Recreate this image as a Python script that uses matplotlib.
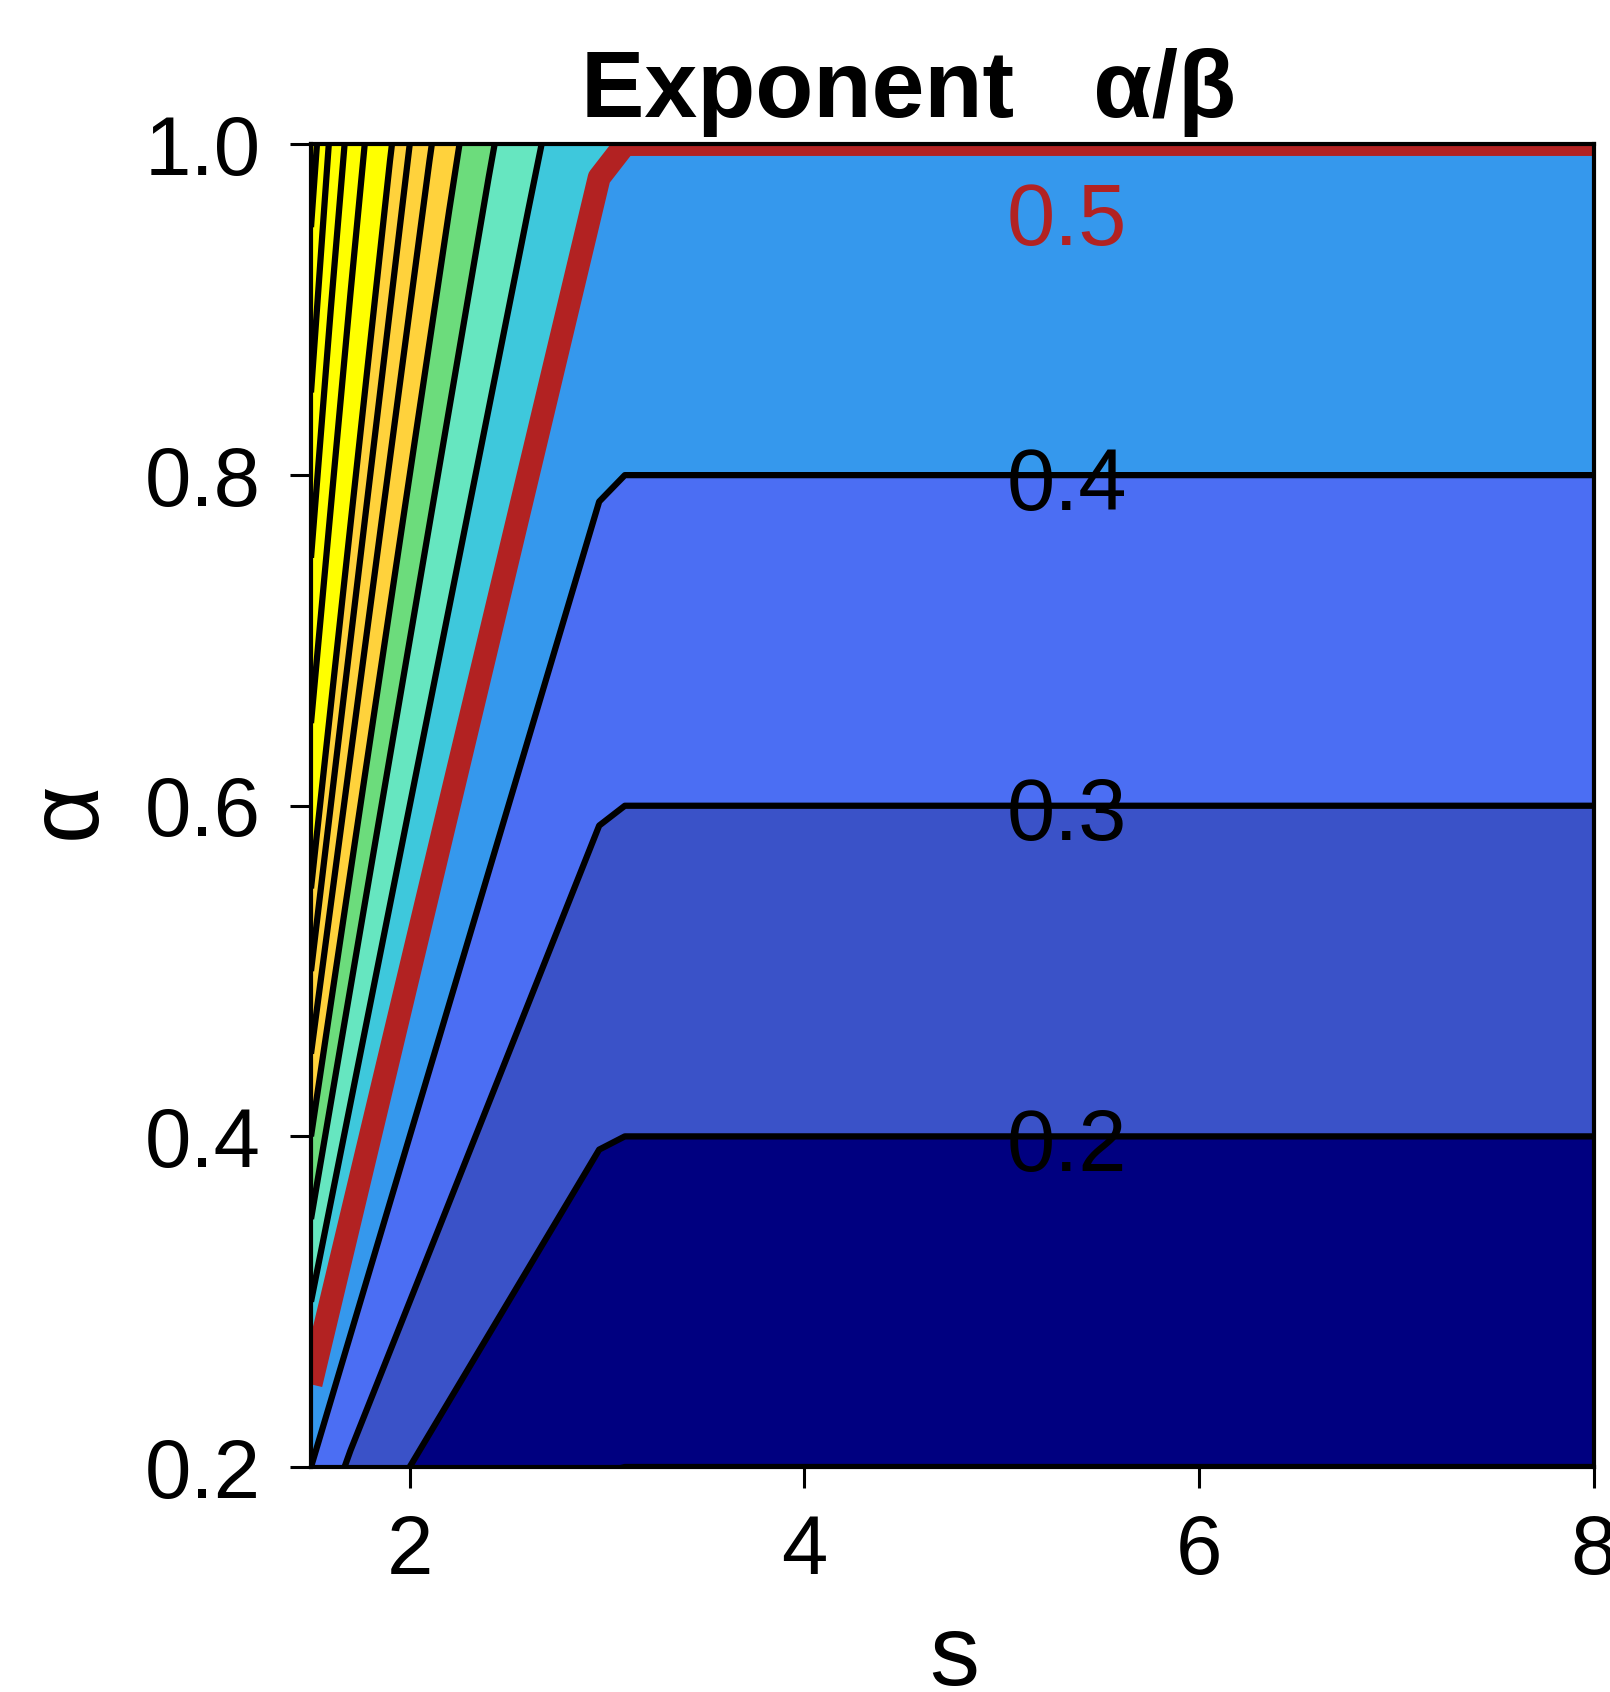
import numpy as np
import matplotlib
matplotlib.use("Agg")
import matplotlib.pyplot as plt

plt.rcParams['font.family'] = ['Liberation Sans', 'DejaVu Sans']

# ---- data ----
# grid of s values and the exponent beta at each s (contours show beta = s-1, capped at 2)
s_nodes = [1.5, 1.6, 1.7, 1.8, 1.9, 2.0, 2.1, 2.2, 2.3, 2.4, 2.5, 2.6, 2.7, 2.8, 2.9, 2.96, 3.09, 8.0]
beta_nodes = [0.5, 0.6, 0.7, 0.8, 0.9, 1.0, 1.1, 1.2, 1.3, 1.4, 1.5, 1.6, 1.7, 1.8, 1.9, 1.96, 2.0, 2.0]
alpha_nodes = [0.15, 0.2, 1.0, 1.05]

fill_levels = [0.0, 0.2, 0.3, 0.4, 0.5, 0.6, 0.7, 0.8, 1.1, 2.2]
fill_colors = ['#000080', '#3A52C8', '#4B6EF3', '#3598ED', '#3EC8DC',
               '#66E6C0', '#6CDC7C', '#FFD23C', '#FFFF00']
black_levels = [0.1, 0.2, 0.3, 0.4, 0.6, 0.7, 0.8, 0.9, 1.0, 1.1, 1.3, 1.5, 1.7, 1.9]
red_levels = [0.5]
label_texts = ['0.5', '0.4', '0.3', '0.2']
label_colors = ['#B22222', 'black', 'black', 'black']

x_ticks = [2, 4, 6, 8]
x_ticklabels = ['2', '4', '6', '8']
y_ticks = [0.2, 0.4, 0.6, 0.8, 1.0]
y_ticklabels = ['0.2', '0.4', '0.6', '0.8', '1.0']

# ---- figure ----
W, H = 1610, 1692
fig = plt.figure(figsize=(W / 100, H / 100), dpi=100)
ax_l, ax_r, ax_t, ax_b = 311, 1594, 144.5, 1467
ax = fig.add_axes([ax_l / W, 1 - ax_b / H, (ax_r - ax_l) / W, (ax_b - ax_t) / H])

S, A = np.meshgrid(np.array(s_nodes), np.array(alpha_nodes))
B = np.meshgrid(np.array(beta_nodes), np.array(alpha_nodes))[0]
Z = A / B

ax.contourf(S, A, Z, levels=fill_levels, colors=fill_colors, antialiased=True)
ax.contour(S, A, Z, levels=black_levels, colors='black', linewidths=4.5)
ax.contour(S, A, Z, levels=red_levels, colors='#B22222', linewidths=16.5)

ax.set_xlim(1.5, 8.0)
ax.set_ylim(0.2, 1.0)

# contour labels
label_s = 5.33
label_alpha = [0.939, 0.779, 0.579, 0.379]
for txt, col, a in zip(label_texts, label_colors, label_alpha):
    ax.text(label_s, a, txt, color=col, fontsize=62.5, ha='center', va='baseline', zorder=5)

ax.set_xticks(x_ticks)
ax.set_xticklabels(x_ticklabels)
ax.set_yticks(y_ticks)
ax.set_yticklabels(y_ticklabels)
ax.tick_params(direction='out', length=15, width=2.2, labelsize=60)
ax.tick_params(axis='x', pad=18)
ax.tick_params(axis='y', pad=21)
for sp in ax.spines.values():
    sp.set_linewidth(3.0)

ax.set_xlabel('s', fontsize=72)
ax.xaxis.label.set_va('baseline')
ax.xaxis.set_label_coords((954 - ax_l) / (ax_r - ax_l), (ax_b - 1685) / (ax_b - ax_t))
ax.set_ylabel('α', fontsize=72)
ax.yaxis.label.set_va('baseline')
ax.yaxis.set_label_coords((95 - ax_l) / (ax_r - ax_l), (ax_b - 810.5) / (ax_b - ax_t))

fig.text(581 / W, 1 - 116.7 / H, 'Exponent   α/β', fontsize=68.4, fontweight='bold',
         ha='left', va='baseline')

fig.savefig('out.png', dpi=100)
